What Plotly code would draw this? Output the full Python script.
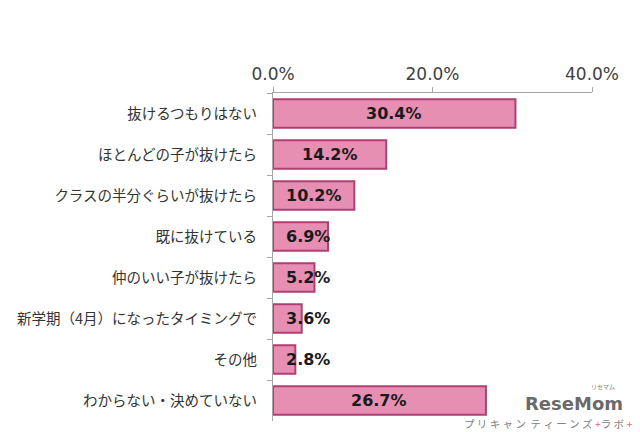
import plotly.graph_objects as go

categories = [
    "抜けるつもりはない",
    "ほとんどの子が抜けたら",
    "クラスの半分ぐらいが抜けたら",
    "既に抜けている",
    "仲のいい子が抜けたら",
    "新学期（4月）になったタイミングで",
    "その他",
    "わからない・決めていない",
]
values = [30.4, 14.2, 10.2, 6.9, 5.2, 3.6, 2.8, 26.7]
x_ticks = [0, 20, 40]
x_tick_labels = ["0.0%", "20.0%", "40.0%"]

fig = go.Figure()
fig.add_trace(go.Bar(
    x=values,
    y=categories,
    orientation="h",
    width=0.69,
    marker=dict(color="#E78EB3", line=dict(color="#B23F73", width=2)),
    hoverinfo="skip",
))

# value labels: centered in bar, or kept near the base for short bars
min_center = 4.4
for c, v in zip(categories, values):
    fig.add_annotation(
        x=max(v / 2, min_center), y=c, xref="x", yref="y",
        text=f"{v:.1f}%", showarrow=False,
        font=dict(family="DejaVu Sans", size=16, color="#1a1a1a", weight="bold"),
        xanchor="center", yanchor="middle",
    )

# watermark
fig.add_annotation(
    x=1.100, y=0.052, xref="paper", yref="paper", xanchor="right", yanchor="middle",
    text="<b>ReseMom</b>", showarrow=False, borderpad=0,
    font=dict(family="DejaVu Sans", size=18, color="rgba(85,85,85,0.9)"),
)
fig.add_annotation(
    x=1.075, y=0.104, xref="paper", yref="paper", xanchor="right", yanchor="middle",
    text="リセマム", showarrow=False, borderpad=0,
    font=dict(family="Noto Sans CJK JP", size=6, color="rgba(110,110,110,0.9)"),
)
fig.add_annotation(
    x=1.128, y=-0.008, xref="paper", yref="paper", xanchor="right", yanchor="middle",
    text="プ リ キ ャ ン  テ ィ ー ン ズ <span style='color:#e0507a'>+</span>ラ ボ <span style='color:#e0507a'>+</span>",
    showarrow=False, borderpad=0,
    font=dict(family="Noto Sans CJK JP", size=10.5, color="rgba(110,110,110,0.9)"),
)

fig.update_layout(
    width=640, height=432,
    margin=dict(l=273, r=48, t=93, b=11),
    paper_bgcolor="white", plot_bgcolor="white",
    showlegend=False,
    bargap=0.31,
    xaxis=dict(
        side="top", range=[0, 40], tickvals=x_ticks, ticktext=x_tick_labels,
        showgrid=False, zeroline=False, showline=True, linecolor="#A6A6A6", linewidth=1,
        ticks="outside", ticklen=5, tickcolor="#A6A6A6",
        tickfont=dict(family="DejaVu Sans", size=17, color="#404040"),
    ),
    yaxis=dict(
        autorange="reversed", type="category",
        showgrid=False, zeroline=False, showline=True, linecolor="#A6A6A6", linewidth=1,
        ticks="outside", ticklen=5, tickcolor="#A6A6A6", tickson="boundaries",
        ticklabelstandoff=12,
        tickfont=dict(family="Noto Sans CJK JP", size=14.5, color="#333333"),
    ),
)

fig.write_html("out.html")
